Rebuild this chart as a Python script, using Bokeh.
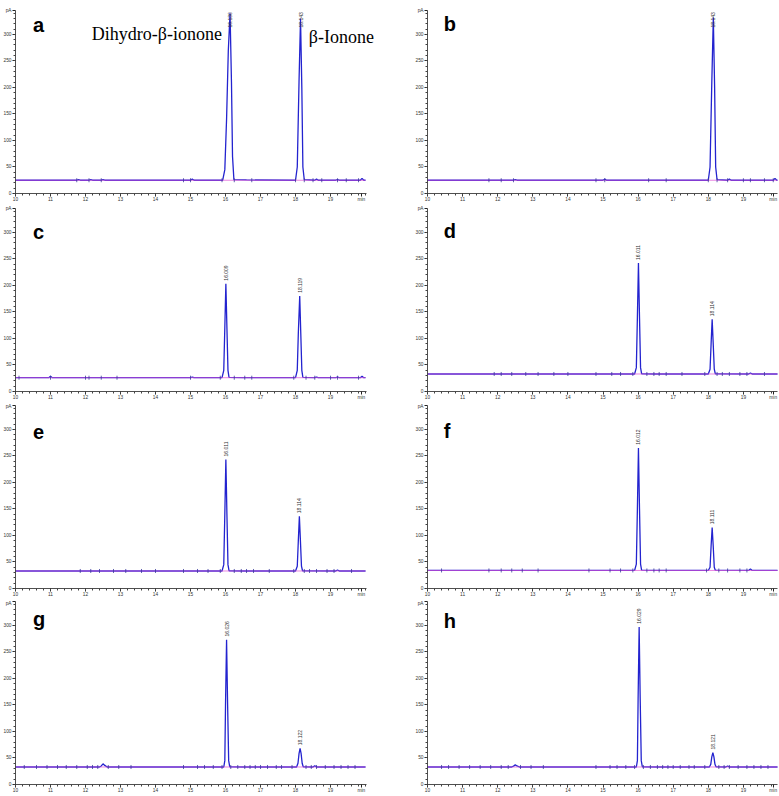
import math
from bokeh.plotting import figure
from bokeh.models import Range1d, FixedTicker, Label
from bokeh.layouts import column, row
from bokeh.embed import file_html
from bokeh.resources import INLINE
from bokeh.core.properties import value

# ---------------- data ----------------
panel_names = ["a", "b", "c", "d", "e", "f", "g", "h"]
baselines = [25, 25, 26, 33, 33, 34, 33, 33]

trace_x_a = [10.0, 11.75, 11.8, 11.85, 12.1, 12.15, 12.2, 12.45, 12.5, 12.55, 15.0, 15.05, 15.1,
             15.92, 15.98, 16.03, 16.08, 16.13, 16.17, 16.2, 16.24, 16.6,
             18.0, 18.05, 18.1, 18.143, 18.18, 18.21, 18.25, 18.55, 18.6, 18.65,
             19.15, 19.2, 19.25, 19.85, 19.9, 19.95, 20.0]
trace_y_a = [25, 25, 26, 25, 25, 26, 25, 25, 26, 25, 25, 27, 25,
             25, 45, 140, 270, 340, 210, 70, 26, 25.5,
             25, 50, 210, 330, 200, 50, 26, 25, 27, 25,
             25, 26, 25, 25, 28.5, 25, 25]

trace_x_b = [10.0, 12.45, 12.5, 12.55, 15.0, 15.05, 15.1, 18.0, 18.05, 18.1, 18.143, 18.18, 18.21,
             18.25, 18.55, 18.6, 18.65, 19.85, 19.9, 19.95, 20.0]
trace_y_b = [25, 25, 26, 25, 25, 27, 25, 25, 50, 210, 332, 200, 50,
             26, 25, 27, 25, 25, 28.5, 25, 25]

trace_x_c = [10.0, 10.95, 11.0, 11.05, 15.0, 15.05, 15.1, 15.9, 15.95, 15.98, 16.01, 16.04, 16.07,
             16.1, 16.5, 18.0, 18.05, 18.08, 18.12, 18.15, 18.18, 18.21, 18.55, 18.6, 18.65,
             19.15, 19.2, 19.25, 19.85, 19.9, 19.95, 20.0]
trace_y_c = [26, 26, 28.5, 26, 26, 27, 26, 26, 40, 120, 203, 120, 40,
             26.5, 26, 26, 40, 110, 180, 110, 40, 26.5, 26, 27, 26,
             26, 27, 26, 26, 28.5, 26, 26]

trace_x_d = [10.0, 15.9, 15.95, 15.98, 16.01, 16.04, 16.07, 16.1, 16.5, 18.0, 18.05, 18.08, 18.11,
             18.14, 18.17, 18.2, 19.15, 19.2, 19.25, 20.0]
trace_y_d = [33, 33, 45, 140, 242, 140, 45, 33.5, 33, 33, 42, 90, 136,
             90, 42, 33.5, 33, 35, 33, 33]

trace_x_e = [10.0, 15.9, 15.95, 15.98, 16.01, 16.04, 16.07, 16.1, 16.5, 18.0, 18.05, 18.08, 18.11,
             18.14, 18.17, 18.2, 19.15, 19.2, 19.25, 20.0]
trace_y_e = [33, 33, 45, 140, 243, 140, 45, 33.5, 33, 33, 42, 90, 136,
             90, 42, 33.5, 33, 35, 33, 33]

trace_x_f = [10.0, 15.9, 15.95, 15.98, 16.01, 16.04, 16.07, 16.1, 16.5, 18.0, 18.05, 18.08, 18.11,
             18.14, 18.17, 18.2, 19.15, 19.2, 19.25, 20.0]
trace_y_f = [34, 34, 46, 150, 265, 150, 46, 34.5, 34, 34, 40, 80, 115,
             80, 40, 34.5, 34, 37, 34, 34]

trace_x_g = [10.0, 12.4, 12.45, 12.5, 12.55, 12.62, 15.95, 15.98, 16.0, 16.03, 16.06, 16.09, 16.12,
             16.5, 18.03, 18.07, 18.1, 18.13, 18.16, 18.19, 18.22, 18.5, 18.55, 18.6, 20.0]
trace_y_g = [33, 33, 35, 39, 36, 33, 33, 45, 150, 273, 150, 45, 33.5,
             33, 33, 40, 58, 68, 58, 40, 33.5, 33, 35.5, 33, 33]

trace_x_h = [10.0, 12.4, 12.45, 12.5, 12.55, 12.62, 15.95, 15.98, 16.0, 16.03, 16.06, 16.09, 16.12,
             16.5, 18.03, 18.07, 18.1, 18.13, 18.16, 18.19, 18.22, 18.5, 18.55, 18.6, 20.0]
trace_y_h = [33, 33, 34.5, 37, 35, 33, 33, 45, 160, 297, 160, 45, 33.5,
             33, 33, 38, 52, 60, 52, 38, 33.5, 33, 35, 33, 33]

peak_labels = [["16.130", "18.143"], ["18.143"], ["16.009", "18.119"], ["16.011", "18.114"],
               ["16.011", "18.114"], ["16.012", "18.111"], ["16.026", "18.122"], ["16.029", "18.121"]]
peak_rt = [[16.13, 18.143], [18.143], [16.01, 18.12], [16.01, 18.11],
           [16.01, 18.11], [16.01, 18.11], [16.03, 18.13], [16.03, 18.13]]
peak_height = [[340, 330], [332], [203, 180], [242, 136],
               [243, 136], [265, 115], [273, 68], [297, 60]]

event_marks = [
    [11.75, 12.1, 12.45, 14.8, 15.0, 15.9, 16.25, 16.75, 18.0, 18.25, 18.5, 18.75, 19.2, 19.45, 19.8],
    [11.75, 12.1, 12.45, 14.8, 15.05, 16.3, 16.8, 18.0, 18.25, 18.55, 19.0, 19.2, 19.6, 19.85],
    [10.1, 11.0, 12.0, 12.1, 12.45, 12.9, 15.0, 15.85, 16.25, 16.55, 16.75, 17.95, 18.3, 18.55, 19.0, 19.2, 19.8],
    [11.9, 12.1, 12.4, 12.8, 13.15, 13.6, 14.0, 14.8, 15.25, 15.5, 15.85, 16.25, 16.45, 16.6, 16.8,
     17.25, 17.9, 18.25, 18.4, 18.6, 18.9, 19.1, 19.6],
    [11.85, 12.15, 12.4, 12.8, 13.15, 13.6, 14.0, 14.8, 15.2, 15.5, 15.85, 16.25, 16.45, 16.6, 16.8,
     17.25, 17.95, 18.25, 18.4, 18.6, 18.9, 19.1, 19.6],
    [10.4, 11.75, 12.1, 12.4, 12.7, 13.15, 14.6, 15.2, 15.5, 15.85, 16.25, 16.45, 16.6, 16.8,
     17.95, 18.3, 18.55, 18.9, 19.1],
    [10.25, 10.6, 10.9, 11.2, 11.45, 11.75, 12.05, 12.2, 12.35, 12.65, 12.95, 13.3, 14.8, 15.2, 15.4,
     15.65, 15.9, 16.15, 16.35, 16.55, 16.7, 16.85, 17.0, 17.2, 17.45, 17.6, 17.9, 18.3, 18.45, 18.6,
     18.85, 19.1, 19.3, 19.5, 19.7],
    [10.4, 10.6, 10.9, 11.2, 11.5, 11.8, 12.1, 12.3, 12.65, 12.95, 13.3, 14.8, 15.2, 15.4, 15.65,
     15.9, 16.15, 16.35, 16.55, 16.7, 16.85, 17.0, 17.2, 17.45, 17.6, 17.9, 18.3, 18.45, 18.6, 18.85,
     19.1, 19.3, 19.5, 19.7],
]

traces_x = [trace_x_a, trace_x_b, trace_x_c, trace_x_d, trace_x_e, trace_x_f, trace_x_g, trace_x_h]
traces_y = [trace_y_a, trace_y_b, trace_y_c, trace_y_d, trace_y_e, trace_y_f, trace_y_g, trace_y_h]

x_major = [10, 11, 12, 13, 14, 15, 16, 17, 18, 19]
y_major = [0, 50, 100, 150, 200, 250, 300]

# ---------------- layout / style ----------------
BLUE = "#2323cf"
PINK = "#e052d6"
TICK_FONT = "Liberation Sans"
Y_TOP = 345
PX_PER_MIN = 35.1
letter_y = [317, 320, 301, 302, 295, 296, 312, 308]
letter_x = [10.5, 10.46]
row_heights = [205, 198, 197, 196]
top_borders = [10, 3, 2, 1]
BOTTOM = 12
# column settings: width, left border, right border, position of "min"
col_cfg = [(390, 14, 14, 19.88), (389, 37, 2, 19.85)]


def make_panel(i):
    r, c = divmod(i, 2)
    w, bl, br, min_pos = col_cfg[c]
    frame_w = w - bl - br
    x_end = 10 + frame_w / PX_PER_MIN
    p = figure(width=w, height=row_heights[r], x_range=Range1d(10, x_end), y_range=Range1d(0, Y_TOP),
               output_backend="svg", toolbar_location=None, tools="",
               min_border_left=bl, min_border_right=br, min_border_top=top_borders[r],
               min_border_bottom=BOTTOM, outline_line_color=None,
               background_fill_color="white", border_fill_color="white")
    p.xgrid.visible = False
    p.ygrid.visible = False

    xt = x_major + [min_pos]
    p.xaxis.ticker = FixedTicker(ticks=xt, minor_ticks=[round(10 + 0.2 * k, 2) for k in range(51)])
    p.xaxis.major_label_overrides = {min_pos: "min"}
    p.xaxis.bounds = (10, min(20.02, x_end))
    p.yaxis.ticker = FixedTicker(ticks=y_major + [Y_TOP], minor_ticks=list(range(0, 341, 10)))
    p.yaxis.major_label_overrides = {Y_TOP: "pA"}
    for ax in (p.xaxis, p.yaxis):
        ax.axis_line_color = "#222222"
        ax.axis_line_width = 0.8
        ax.major_tick_line_color = "#222222"
        ax.minor_tick_line_color = "#444444"
        ax.major_tick_in = 0
        ax.major_tick_out = 3
        ax.minor_tick_in = 0
        ax.minor_tick_out = 2
        ax.major_label_text_font = TICK_FONT
        ax.major_label_text_font_size = "4.8px"
        ax.major_label_text_color = "#333333"
    p.xaxis.major_label_standoff = 0
    p.yaxis.major_label_standoff = 1

    base = baselines[i]
    tx, ty = traces_x[i], traces_y[i]
    p.line(tx, ty, line_color=BLUE, line_width=1.3)
    # integrator baseline (pink), spanning the recorded time window
    p.segment(x0=[tx[0]], y0=[base], x1=[tx[-1]], y1=[base], line_color=PINK,
              line_width=1, line_alpha=0.7)
    marks = event_marks[i]
    p.dash(x=marks, y=[base] * len(marks), angle=math.pi / 2, size=4,
           line_color="#3a3a9a", line_width=0.8)

    lab_y = [min(h + 6, 313) for h in peak_height[i]]
    p.text(x=peak_rt[i], y=lab_y, text=peak_labels[i], angle=math.pi / 2,
           text_font=value(TICK_FONT), text_font_size="5px", text_color="#333333",
           text_align="left", text_baseline="middle")

    p.add_layout(Label(x=letter_x[c], y=letter_y[i], text=panel_names[i], text_font=TICK_FONT,
                       text_font_size="20px", text_font_style="bold", text_color="black",
                       text_baseline="alphabetic"))
    if i == 0:
        p.add_layout(Label(x=12.18, y=300, text="Dihydro-β-ionone", text_font="Liberation Serif",
                           text_font_size="18px", text_color="black", text_baseline="alphabetic"))
        p.add_layout(Label(x=18.38, y=294.5, text="β-Ionone", text_font="Liberation Serif",
                           text_font_size="18px", text_color="black", text_baseline="alphabetic"))
    return p


figs = [make_panel(i) for i in range(8)]
layout = column([row(figs[2 * r], figs[2 * r + 1], spacing=0) for r in range(4)], spacing=0)

open("out.html", "w").write(file_html(layout, INLINE))
